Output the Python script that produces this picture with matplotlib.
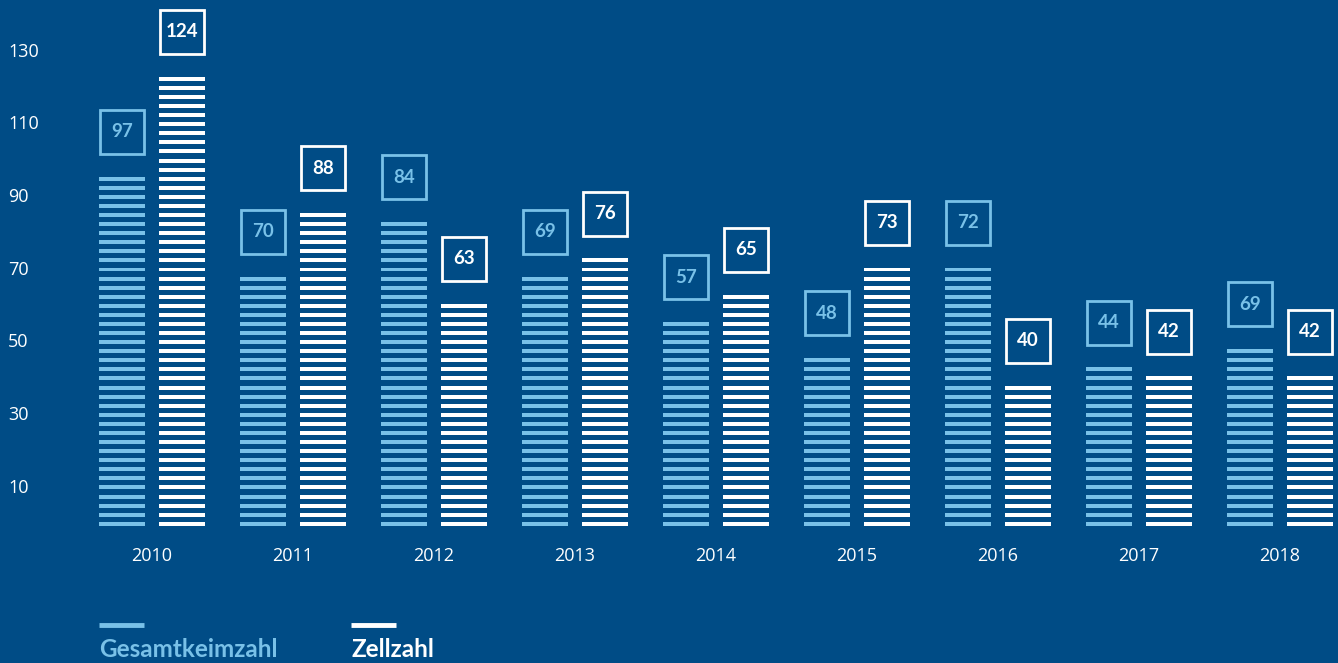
import numpy as np
import matplotlib
matplotlib.use('Agg')
import matplotlib.pyplot as plt
from matplotlib.patches import Rectangle

# data
years = ["2010", "2011", "2012", "2013", "2014", "2015", "2016", "2017", "2018"]
gesamt_values = [97, 70, 84, 69, 57, 48, 72, 44, 49]
gesamt_labels = ["97", "70", "84", "69", "57", "48", "72", "44", "69"]
zell_values = [124, 88, 63, 76, 65, 73, 40, 42, 42]
zell_labels = ["124", "88", "63", "76", "65", "73", "40", "42", "42"]
y_ticks = [10, 30, 50, 70, 90, 110, 130]
series_names = ["Gesamtkeimzahl", "Zellzahl"]

BG = "#004C86"
LIGHT = "#79C1E8"
WHITE = "#FFFFFF"
plt.rcParams['font.family'] = ['Open Sans', 'DejaVu Sans']
BOLD = ['Lato', 'DejaVu Sans']

PITCH = 2.5      # stripe spacing in data units
THICK = 1.1      # stripe thickness
BAR_W = 0.326
OFFSET = 0.213
BOX_W = 0.312
BOX_H = 12.1
BOX_GAP = 6.3

fig = plt.figure(figsize=(13.38, 6.63), dpi=100, facecolor=BG)
ax = fig.add_axes([0, 0, 1, 1])
ax.set_facecolor(BG)
ax.set_xlim(-1.078, 8.411)
ax.set_ylim(-38.26, 144.23)
ax.axis('off')

x = np.arange(len(years))


def draw_series(xc, values, labels, color):
    for xi, v, lab in zip(xc, values, labels):
        n = int(round(v / PITCH))
        bottoms = np.arange(n) * PITCH - 0.5
        ax.bar(np.full(n, xi), THICK, bottom=bottoms, width=BAR_W,
               color=color, linewidth=0)
        top = bottoms[-1] + THICK
        ax.add_patch(Rectangle((xi - BOX_W / 2, top + BOX_GAP), BOX_W, BOX_H,
                               fill=False, edgecolor=color, linewidth=2))
        ax.text(xi, top + BOX_GAP + BOX_H / 2, lab, color=color, family=BOLD,
                fontsize=13.5, fontweight='bold', ha='center', va='center')


draw_series(x - OFFSET, gesamt_values, gesamt_labels, LIGHT)
draw_series(x + OFFSET, zell_values, zell_labels, WHITE)

# y tick labels
for t in y_ticks:
    ax.text(0.006, t, str(t), transform=ax.get_yaxis_transform(),
            color=WHITE, fontsize=13, ha='left', va='center')

# year labels
for xi, yr in zip(x, years):
    ax.text(xi, -8.8, yr, color=WHITE, fontsize=13, ha='center', va='center')

# legend
for name, color, px in zip(series_names, [LIGHT, WHITE], [99, 351]):
    fx = px / 1338
    fig.add_artist(plt.Line2D([fx, fx + 45 / 1338], [1 - 625 / 663] * 2,
                              color=color, linewidth=3.5,
                              solid_capstyle='butt'))
    fig.text(fx, 2 / 663, name, color=color, fontsize=17.5, family=BOLD,
             fontweight='bold', ha='left', va='bottom')

fig.savefig("out.png", dpi=100, facecolor=BG)
